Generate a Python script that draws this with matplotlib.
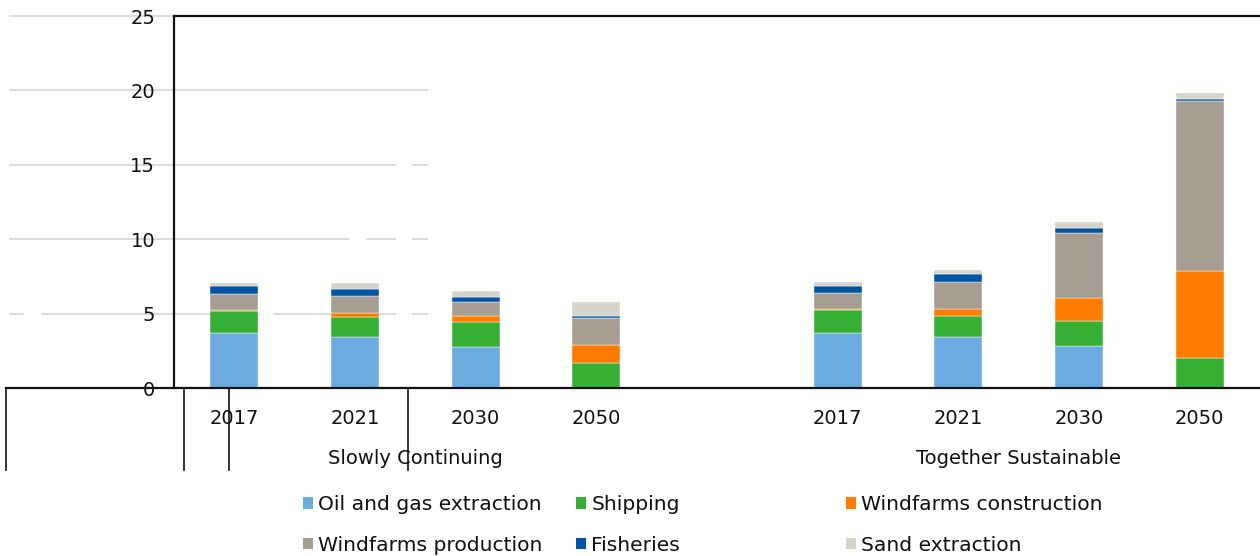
import matplotlib
matplotlib.use('Agg')
import matplotlib.pyplot as plt
import matplotlib.transforms as mtransforms
from matplotlib.patches import Patch
import numpy as np

# Data
years = ['2017', '2021', '2030', '2050', '2017', '2021', '2030', '2050']
scenarios = ['Slowly Continuing', 'Together Sustainable']
oil_gas = [3.68, 3.41, 2.76, 0.0, 3.72, 3.45, 2.80, 0.0]
shipping = [1.51, 1.38, 1.68, 1.70, 1.52, 1.42, 1.68, 2.04]
wind_constr = [0.04, 0.27, 0.38, 1.19, 0.04, 0.42, 1.60, 5.84]
wind_prod = [1.06, 1.10, 0.94, 1.83, 1.08, 1.83, 4.32, 11.43]
fisheries = [0.54, 0.51, 0.36, 0.14, 0.52, 0.52, 0.35, 0.11]
sand = [0.25, 0.39, 0.42, 0.94, 0.26, 0.27, 0.43, 0.43]

series = [
    ('Oil and gas extraction', oil_gas, '#6CABE1'),
    ('Shipping', shipping, '#35B035'),
    ('Windfarms construction', wind_constr, '#FF7C00'),
    ('Windfarms production', wind_prod, '#A59D92'),
    ('Fisheries', fisheries, '#0054A1'),
    ('Sand extraction', sand, '#D6D3CB'),
]

W, H = 1260, 556
FS = 14
plt.rcParams['font.family'] = 'DejaVu Sans'

fig = plt.figure(figsize=(W / 100, H / 100), dpi=100)
ax = fig.add_axes([174 / W, 1 - 388 / H, 1 - 174 / W, (388 - 16) / H])

x = np.array([0, 1, 2, 3, 5, 6, 7, 8])
bottom = np.zeros(len(x))
for name, vals, col in series:
    vals = np.array(vals)
    ax.bar(x, vals, width=0.4, bottom=bottom, color=col, edgecolor='white',
           linewidth=0.3, zorder=3)
    bottom += vals

ax.set_xlim(-0.5, 8.5)
ax.set_ylim(0, 25)
ax.set_yticks(np.arange(0, 26, 5))
ax.set_xticks(x)
ax.set_xticklabels(years)
ax.tick_params(axis='y', length=0, pad=13.5, labelsize=FS, colors='#111111')
ax.tick_params(axis='x', length=0, pad=15, labelsize=FS, colors='#111111')

for s in ['right', 'bottom']:
    ax.spines[s].set_visible(False)
for s in ['top', 'left']:
    ax.spines[s].set_linewidth(1.6)
    ax.spines[s].set_color('#111111')

# broken gridlines (as drawn in the original export), x in pixels
grid_segments = {
    25: [(10, 174)],
    20: [(10, 427)],
    15: [(10, 395), (413, 427)],
    10: [(10, 348), (367, 395), (413, 427)],
    5: [(10, 23), (42, 259), (274, 395), (413, 427)],
}
trans = mtransforms.blended_transform_factory(fig.transFigure, ax.transData)
for yv, segs in grid_segments.items():
    for x0, x1 in segs:
        ax.plot([x0 / W, x1 / W], [yv, yv], transform=trans, color='#D9D9D9',
                lw=1.3, clip_on=False, zorder=1)

# baseline and category separators
ax.plot([6 / W, 1], [0, 0], transform=trans, color='#111111', lw=1.6,
        clip_on=False, zorder=4)
for xp in [6, 184, 229, 408]:
    fig.add_artist(plt.Line2D([xp / W, xp / W], [1 - 388 / H, 1 - 470 / H],
                              transform=fig.transFigure, color='#111111', lw=1.2))

ttrans = mtransforms.blended_transform_factory(ax.transData, fig.transFigure)
ax.text(1.5, 1 - 458 / H, scenarios[0], transform=ttrans, ha='center',
        va='center', fontsize=FS, color='#111111')
ax.text(6.5, 1 - 458 / H, scenarios[1], transform=ttrans, ha='center',
        va='center', fontsize=FS, color='#111111')

# legend: three fixed-width columns, two rows
handles = [Patch(facecolor=c, edgecolor='none', label=n) for n, _, c in series]
columns = [(handles[0], handles[3]), (handles[1], handles[4]), (handles[2], handles[5])]
col_x = [303, 576, 846]
for (h1, h2), cx in zip(columns, col_x):
    leg = fig.legend(handles=[h1, h2], loc='center left',
                     bbox_to_anchor=(cx / W, 1 - 525 / H), frameon=False,
                     fontsize=14.6, handlelength=0.5, handleheight=0.5,
                     handletextpad=0.25, labelspacing=1.05, borderpad=0,
                     borderaxespad=0)
    for t in leg.get_texts():
        t.set_color('#111111')

fig.savefig('out.png', dpi=100)
